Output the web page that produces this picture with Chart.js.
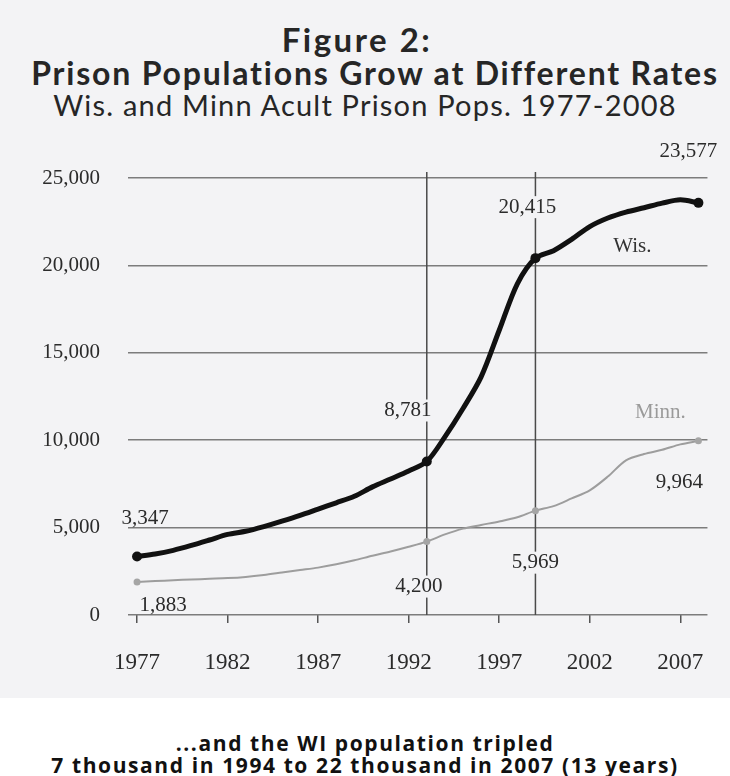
<!DOCTYPE html>
<html lang="en">
<head>
    <meta charset="UTF-8">
    <title>Figure 2: Prison Populations Grow at Different Rates</title>
    <script src="https://cdn.jsdelivr.net/npm/chart.js"></script>
    <style>
        body {
            margin: 0;
            padding: 0;
            background-color: #fff;
            width: 730px;
            height: 776px;
            position: relative;
            overflow: hidden;
        }

        .scan {
            position: absolute;
            left: 0;
            top: 0;
            width: 730px;
            height: 698px;
            background-color: #f3f3f5;
        }

        .title {
            position: absolute;
            left: 0;
            width: 730px;
            text-align: center;
            color: #262626;
            font-family: 'Lato', sans-serif;
            line-height: 1;
            white-space: nowrap;
        }

        #t1 { top: 23px; left: -8px; font-size: 33px; font-weight: bold; letter-spacing: 2.5px; }
        #t2 { top: 57px; left: 10px; font-size: 32px; font-weight: bold; letter-spacing: 1.8px; }
        #t3 { top: 90px; font-size: 29px; letter-spacing: 1.2px; }

        .caption {
            position: absolute;
            left: 0;
            width: 730px;
            text-align: center;
            color: #111;
            font-family: 'Open Sans', sans-serif;
            font-weight: 700;
            font-size: 21px;
            letter-spacing: 1.6px;
            line-height: 1;
            white-space: nowrap;
        }

        #c1 { top: 733px; }
        #c2 { top: 755px; }

        #chartBox {
            position: absolute;
            left: 0;
            top: 120px;
            width: 730px;
            height: 570px;
        }
    </style>
</head>
<body>
    <div class="scan"></div>
    <div class="title" id="t1">Figure 2:</div>
    <div class="title" id="t2">Prison Populations Grow at Different Rates</div>
    <div class="title" id="t3">Wis. and Minn Acult Prison Pops. 1977-2008</div>

    <div id="chartBox"><canvas id="prisonChart"></canvas></div>

    <div class="caption" id="c1">...and the WI population tripled</div>
    <div class="caption" id="c2">7 thousand in 1994 to 22 thousand in 2007 (13 years)</div>

    <script>
        // years 1977..2008
        const years = [1977, 1978, 1979, 1980, 1981, 1982, 1983, 1984, 1985, 1986, 1987, 1988, 1989, 1990, 1991, 1992,
                       1993, 1994, 1995, 1996, 1997, 1998, 1999, 2000, 2001, 2002, 2003, 2004, 2005, 2006, 2007, 2008];

        // Wisconsin adult prison population
        const wisPop = [3347, 3490, 3700, 3980, 4290, 4610, 4790, 5060, 5370, 5700, 6060, 6420, 6790, 7330, 7780, 8240,
                        8781, 10190, 11810, 13620, 16290, 18950, 20415, 20840, 21490, 22220, 22710, 23050, 23300, 23560, 23750, 23577];

        // Minnesota adult prison population
        const minnPop = [1883, 1940, 1990, 2030, 2070, 2110, 2180, 2290, 2430, 2570, 2710, 2900, 3130, 3390, 3630, 3900,
                         4200, 4610, 4940, 5150, 5350, 5590, 5969, 6230, 6670, 7130, 7920, 8850, 9210, 9450, 9760, 9964];

        const yTicks = [0, 5000, 10000, 15000, 20000, 25000];
        const xTicks = [1977, 1982, 1987, 1992, 1997, 2002, 2007];
        const markedYears = [1977, 1993, 1999, 2008];   // dots + value labels
        const guideYears = [1993, 1999];                // vertical lines

        const textColor = '#2b2b2b';
        const serif = "'Liberation Serif', 'DejaVu Serif', serif";
        const bg = '#f3f3f5';

        function fmt(v) {
            return v === 0 ? '0' : v.toLocaleString('en-US');
        }

        function toPoints(vals) {
            return years.map((y, i) => ({ x: y, y: vals[i] }));
        }

        function markRadius(size) {
            return ctx => markedYears.includes(years[ctx.dataIndex]) ? size : 0;
        }

        // vertical guide lines at 1993 and 1999
        const guidePlugin = {
            id: 'guides',
            beforeDatasetsDraw(chart) {
                const c = chart.ctx;
                const xs = chart.scales.x;
                const area = chart.chartArea;
                c.save();
                c.strokeStyle = '#4a4a4a';
                c.lineWidth = 1.5;
                guideYears.forEach(y => {
                    const px = xs.getPixelForValue(y);
                    c.beginPath();
                    c.moveTo(px, area.top - 6);
                    c.lineTo(px, area.bottom);
                    c.stroke();
                });
                c.restore();
            }
        };

        // value labels and series names
        const labelPlugin = {
            id: 'valueLabels',
            afterDatasetsDraw(chart) {
                const c = chart.ctx;
                const xs = chart.scales.x;
                const ys = chart.scales.y;
                const at = (arr, yr) => arr[years.indexOf(yr)];

                // [series, year, dx, dy, knockout]
                const items = [
                    [wisPop, 1977, 8, -38, false],
                    [minnPop, 1977, 26, 23, false],
                    [wisPop, 1993, -19, -51, true],
                    [minnPop, 1993, -8, 45, true],
                    [wisPop, 1999, -8, -51, true],
                    [minnPop, 1999, 0, 52, true],
                    [wisPop, 2008, -10, -51, false],
                    [minnPop, 2008, -19, 42, false]
                ];

                c.save();
                c.font = '21px ' + serif;
                c.textAlign = 'center';
                c.textBaseline = 'middle';
                items.forEach(([arr, yr, dx, dy, knock]) => {
                    const v = at(arr, yr);
                    const px = xs.getPixelForValue(yr) + dx;
                    const py = ys.getPixelForValue(v) + dy;
                    const txt = fmt(v);
                    if (knock) {
                        const w = c.measureText(txt).width;
                        c.fillStyle = bg;
                        c.fillRect(px - w / 2 - 2, py - 11, w + 4, 22);
                    }
                    c.fillStyle = textColor;
                    c.fillText(txt, px, py);
                });

                const wEnd = ys.getPixelForValue(at(wisPop, 2008));
                const mEnd = ys.getPixelForValue(at(minnPop, 2008));
                const xEnd = xs.getPixelForValue(2008);
                c.fillStyle = '#333';
                c.fillText('Wis.', xEnd - 66, wEnd + 44);
                c.fillStyle = '#9a9a9a';
                c.fillText('Minn.', xEnd - 38, mEnd - 28);
                c.restore();
            }
        };

        new Chart(document.getElementById('prisonChart').getContext('2d'), {
            type: 'line',
            data: {
                datasets: [
                    {
                        label: 'Wis.',
                        data: toPoints(wisPop),
                        borderColor: '#111',
                        backgroundColor: '#111',
                        borderWidth: 5,
                        tension: 0.3,
                        pointRadius: markRadius(5),
                        pointBorderWidth: 0
                    },
                    {
                        label: 'Minn.',
                        data: toPoints(minnPop),
                        borderColor: '#9d9d9d',
                        backgroundColor: '#a5a5a5',
                        borderWidth: 2,
                        tension: 0.3,
                        pointRadius: markRadius(3.5),
                        pointBorderWidth: 0
                    }
                ]
            },
            options: {
                responsive: true,
                maintainAspectRatio: false,
                animation: false,
                layout: {
                    padding: { left: 0, right: 15, top: 58, bottom: 0 }
                },
                plugins: {
                    legend: { display: false },
                    tooltip: { enabled: false }
                },
                scales: {
                    x: {
                        type: 'linear',
                        min: 1976.5,
                        max: 2008.5,
                        afterBuildTicks: scale => {
                            scale.ticks = xTicks.map(v => ({ value: v }));
                        },
                        afterFit: scale => { scale.height = 75; },
                        border: { display: false },
                        grid: {
                            drawOnChartArea: false,
                            drawTicks: true,
                            tickLength: 8,
                            color: '#555',
                            lineWidth: 1.5
                        },
                        ticks: {
                            autoSkip: false,
                            maxRotation: 0,
                            padding: 26,
                            color: textColor,
                            font: { family: serif, size: 23 },
                            callback: v => String(v)
                        }
                    },
                    y: {
                        min: 0,
                        max: 25000,
                        afterBuildTicks: scale => {
                            scale.ticks = yTicks.map(v => ({ value: v }));
                        },
                        afterFit: scale => { scale.width = 128; },
                        border: { display: false },
                        grid: {
                            drawTicks: false,
                            color: '#7c7c7c',
                            lineWidth: 1.5
                        },
                        ticks: {
                            padding: 28,
                            color: textColor,
                            font: { family: serif, size: 21 },
                            callback: v => fmt(v)
                        }
                    }
                }
            },
            plugins: [guidePlugin, labelPlugin]
        });
    </script>
</body>
</html>
